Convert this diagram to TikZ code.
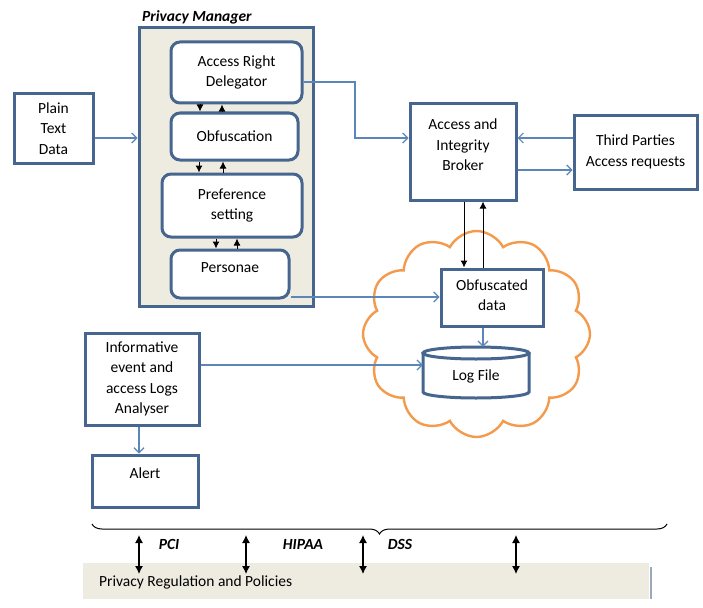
\documentclass[tikz,border=0pt]{standalone}
\usepackage{fontspec}
\setmainfont{Carlito}
\usetikzlibrary{arrows.meta,shapes.symbols,decorations.pathreplacing}
\definecolor{boxblue}{HTML}{46668F}
\definecolor{lineblue}{HTML}{5A86BA}
\definecolor{pmfill}{HTML}{EEECE1}
\definecolor{cloudorange}{HTML}{F39A4C}
\definecolor{edgegray}{HTML}{9AA8BC}
\newcommand\diafont{\fontsize{15.5}{20.5}\selectfont}
\begin{document}
\begin{tikzpicture}[x=1pt,y=-1pt,font=\diafont,
  box/.style={draw=boxblue, line width=3pt, fill=white, align=center, inner sep=0pt},
  rbox/.style={box, rounded corners=9pt},
  pmbox/.style={draw=boxblue, line width=3pt, fill=pmfill, inner sep=0pt},
  txt/.style={align=center, inner sep=0pt},
  conn/.style={draw=lineblue, line width=1.2pt, -{Straight Barb[length=5pt,width=10pt]}},
  blk/.style={draw=black, line width=1pt, -{Latex[length=7pt,width=7pt]}},
  dbl/.style={draw=black, line width=1.1pt, {Latex[length=8pt,width=8pt]}-{Latex[length=8pt,width=8pt]}},
  lbl/.style={font=\diafont\bfseries\itshape, inner sep=0pt}]
\useasboundingbox (0,0) rectangle (703,607);

% Privacy manager
\node[pmbox, minimum width=174pt, minimum height=278pt] (pm) at (226,167) {};
\node[lbl, anchor=west] (pmlabel) at (142,17) {Privacy Manager};
\node[rbox, minimum width=131pt, minimum height=61pt] (ard) at (236.5,72.5) {Access Right\\Delegator};
\node[rbox, minimum width=127pt, minimum height=47pt] (obf) at (234.5,136.5) {Obfuscation};
\node[rbox, minimum width=140pt, minimum height=63pt] (pref) at (232,205.5) {Preference\\setting};
\node[rbox, minimum width=118pt, minimum height=48pt] (pers) at (230,274) {};
\node[txt] (perstxt) at (230,268) {Personae};

% plain text
\node[box, minimum width=79pt, minimum height=69pt] (plain) at (53.5,128.5) {Plain\\Text\\Data};

% broker and third parties
\node[box, minimum width=106pt, minimum height=96pt] (broker) at (463,152) {};
\node[txt] (brokertxt) at (463,145) {Access and\\Integrity\\Broker};
\node[box, minimum width=123pt, minimum height=74pt] (third) at (635.5,152) {Third Parties\\Access requests};

% cloud
\node[cloud, draw=cloudorange, line width=2.4pt, fill=white, cloud puffs=12, cloud puff arc=125, aspect=1.1, minimum width=227pt, minimum height=206pt, inner sep=0pt] (cloud) at (476.5,334) {};
\node[box, minimum width=102pt, minimum height=57pt] (obfd) at (492,297.5) {};
\node[txt] (obfdtxt) at (492,295) {Obfuscated\\data};

% log file cylinder
\node[minimum width=106pt, minimum height=51pt, inner sep=0pt] (log) at (476,372.5) {};
\fill[white] (423,353) -- (423,392) arc[start angle=180, end angle=360, x radius=53pt, y radius=6pt] -- (529,353) -- cycle;
\draw[boxblue, line width=3pt] (423,353) -- (423,392) arc[start angle=180, end angle=360, x radius=53pt, y radius=6pt] -- (529,353);
\draw[boxblue, line width=3pt, fill=white] (476,353) ellipse[x radius=53pt, y radius=6pt];
\node[txt] (logtxt) at (476,376) {Log File};

% analyser and alert
\node[box, minimum width=114pt, minimum height=92pt] (info) at (142,379) {Informative\\event and\\access Logs\\Analyser};
\node[box, minimum width=106pt, minimum height=52pt] (alert) at (145,481) {};
\node[txt] (alerttxt) at (145,473) {Alert};

% connectors
\draw[conn] (plain.east |- 0,138) -- (pm.west |- 0,138);
\coordinate (bend1) at (355,82);
\coordinate (bend2) at (355,138);
\draw[conn] (ard.east |- bend1) -- (bend1) -- (bend2) -- (broker.west |- bend2);
\draw[conn] (third.west |- 0,138) -- (broker.east |- 0,138);
\draw[conn] (broker.east |- 0,170) -- (third.west |- 0,170);
\draw[blk] (broker.south -| 464,0) -- (obfd.north -| 464,0);
\draw[blk] (obfd.north -| 483,0) -- (broker.south -| 483,0);
\draw[conn] (pers.east |- 0,297) -- (obfd.west |- 0,297);
\draw[conn] (obfd.south -| 483,0) -- (log.north -| 483,0);
\draw[conn] (info.east |- 0,365) -- (log.west |- 0,365);
\draw[conn] (info.south -| 139,0) -- (alert.north -| 139,0);

% inner privacy manager arrows
\draw[blk] (ard.south -| 200,0) -- (obf.north -| 200,0);
\draw[blk] (obf.north -| 222,0) -- (ard.south -| 222,0);
\draw[blk] (obf.south -| 199,0) -- (pref.north -| 199,0);
\draw[blk] (pref.north -| 223,0) -- (obf.south -| 223,0);
\draw[blk] (pref.south -| 216,0) -- (pers.north -| 216,0);
\draw[blk] (pers.north -| 237,0) -- (pref.south -| 237,0);

% regulation box
\node[fill=pmfill, minimum width=566pt, minimum height=36pt, inner sep=0pt] (reg) at (366,581) {};
\node[anchor=west, inner sep=0pt] (regtxt) at (99,582) {Privacy Regulation and Policies};
\draw[edgegray, line width=1.5pt] (651,567) -- (651,599);

% brace
\coordinate (bl) at (92,524);
\coordinate (br) at (667,524);
\draw[decorate, decoration={brace, mirror, amplitude=10pt}, line width=1pt] (bl) -- (br);

% double arrows
\coordinate (d1t) at (139,535); \coordinate (d1b) at (139,574);
\coordinate (d2t) at (246,535); \coordinate (d2b) at (246,574);
\coordinate (d3t) at (363,535); \coordinate (d3b) at (363,574);
\coordinate (d4t) at (516,535); \coordinate (d4b) at (516,574);
\draw[dbl] (d1t) -- (d1b);
\draw[dbl] (d2t) -- (d2b);
\draw[dbl] (d3t) -- (d3b);
\draw[dbl] (d4t) -- (d4b);
\node[lbl] (pci) at (169,544) {PCI};
\node[lbl] (hipaa) at (303,544) {HIPAA};
\node[lbl] (dss) at (400,544) {DSS};
\end{tikzpicture}
\end{document}
